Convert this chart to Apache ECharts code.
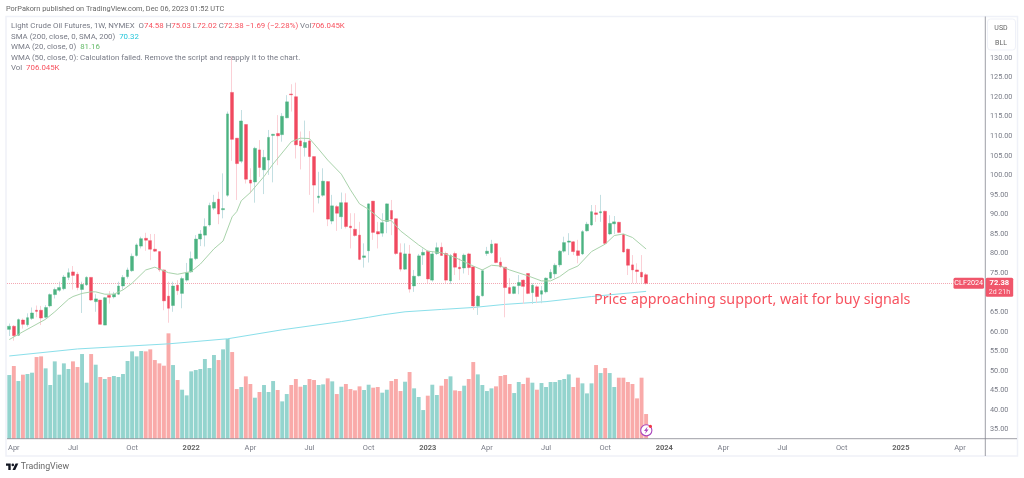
<!DOCTYPE html>
<html><head><meta charset="utf-8">
<style>html,body{margin:0;padding:0;background:#fff}#c{width:1024px;height:478px}</style>
<script src="https://cdn.jsdelivr.net/npm/echarts@6/dist/echarts.min.js"></script>
</head><body><div id="c"></div>
<script>
const opens=[60.6,61.4,59.1,63.0,61.8,63.4,65.5,65.5,63.7,66.6,69.5,70.6,71.0,73.9,75.3,74.7,70.8,72.0,73.9,67.7,68.1,61.7,69.3,68.9,69.6,71.7,74.1,75.6,79.5,81.9,83.9,83.3,81.1,80.5,75.8,69.1,66.7,71.9,69.8,73.2,75.3,78.7,83.7,84.7,87.3,91.6,93.9,91.2,94.9,121.2,109.5,103.6,113.0,98.8,98.3,106.5,101.4,103.9,110.2,110.7,110.4,114.7,120.8,120.1,108.8,107.1,108.8,104.8,94.3,94.9,98.4,88.3,92.0,89.4,93.0,87.0,86.2,84.7,79.0,80.7,93.4,85.6,85.2,88.2,91.0,88.9,80.2,76.0,79.9,71.7,74.3,79.6,80.6,73.2,80.0,81.6,80.0,73.0,80.0,76.5,76.3,79.9,76.6,66.6,69.2,80.0,80.2,82.5,77.8,76.5,71.3,69.8,71.8,73.2,74.9,70.0,71.5,69.6,70.2,73.7,74.8,77.1,80.6,82.9,83.0,80.7,79.9,85.8,87.3,90.4,90.4,90.8,85.0,87.6,88.0,84.9,81.1,77.1,75.8,75.2,74.58];
const closes=[61.4,59.0,63.1,61.9,63.6,64.8,65.2,63.5,66.2,69.5,70.8,71.3,74.0,75.1,74.4,71.3,72.1,73.9,68.1,68.4,61.9,68.7,68.8,69.6,71.7,73.9,75.8,79.3,82.2,83.8,83.4,81.1,80.6,75.8,67.9,66.0,71.7,70.5,73.6,75.1,78.7,83.7,85.0,86.9,92.3,93.1,90.1,91.5,115.7,109.2,103.0,113.9,99.0,98.0,106.9,102.0,104.6,109.7,110.5,110.1,115.1,118.8,120.6,107.8,107.5,108.4,104.8,97.5,94.7,98.5,88.8,92.2,90.3,93.0,86.9,86.6,84.6,78.5,79.4,92.7,85.4,85.0,87.9,92.7,88.8,80.0,76.0,79.9,70.9,74.2,79.4,80.3,73.5,79.9,81.5,79.5,73.2,79.5,76.5,76.1,79.6,76.4,66.6,69.1,75.6,80.6,82.4,77.7,76.6,71.3,69.8,71.5,72.6,71.6,69.8,71.9,69.0,70.5,73.7,75.2,77.0,80.6,82.8,83.2,80.5,79.5,85.6,87.5,90.7,90.0,90.7,82.6,87.7,88.1,85.4,80.4,77.0,75.8,75.4,74.0,72.38];
const lows=[58.9,57.7,58.9,60.8,61.3,63.0,63.7,61.7,63.4,66.2,68.5,70.2,70.6,73.2,70.8,70.6,64.8,71.7,67.9,65.1,61.9,61.7,67.2,68.5,69.4,70.8,73.6,75.3,79.2,81.3,80.7,78.3,80.4,75.3,65.5,62.3,65.1,69.4,66.0,72.8,75.1,78.3,81.9,81.8,86.9,91.1,87.5,89.0,94.5,103.7,93.7,103.1,97.9,95.4,93.0,99.6,95.2,100.1,98.2,102.6,108.6,114.6,116.3,104.3,101.5,104.8,95.0,90.5,92.8,94.5,87.0,87.5,85.8,86.3,86.4,81.3,84.3,78.3,76.4,77.7,83.5,81.3,84.3,85.2,84.7,79.6,75.4,75.8,70.0,70.2,74.1,77.1,72.4,72.8,79.6,79.4,72.4,72.2,74.5,73.2,74.9,74.5,65.6,64.3,69.0,79.4,79.9,77.5,76.4,63.7,69.6,69.6,69.6,67.1,69.6,67.1,67.3,67.3,69.8,73.4,73.7,76.5,80.2,79.6,79.6,77.5,79.6,85.6,87.0,88.1,88.1,82.4,84.7,85.0,85.2,80.2,74.5,72.4,72.4,72.4,72.02];
const highs=[62.1,61.7,63.4,63.4,64.7,66.2,66.7,66.6,66.8,69.8,71.3,72.8,74.5,76.2,76.8,75.3,72.8,74.2,73.9,69.6,68.1,68.9,70.4,70.2,72.8,74.5,76.4,80.0,82.6,84.3,85.3,85.0,85.0,80.5,75.9,72.8,72.8,73.2,74.1,77.6,80.5,84.7,86.0,89.0,93.0,95.0,95.8,100.5,116.3,130.3,109.5,116.7,113.0,101.8,107.3,109.0,106.5,111.6,110.6,115.4,115.9,120.5,123.3,123.7,111.2,114.0,111.3,104.8,100.9,101.8,98.5,95.0,92.4,95.6,95.4,90.3,90.3,88.1,82.6,92.8,93.4,88.1,90.3,92.8,93.7,88.9,82.6,82.6,82.2,75.8,79.9,81.3,80.9,80.5,82.8,82.8,80.5,79.9,80.5,78.8,80.0,80.2,76.8,69.4,76.0,81.7,83.5,82.6,79.0,76.5,73.7,71.7,74.5,73.4,74.9,72.4,71.9,71.7,73.9,76.0,77.5,80.9,84.3,85.2,83.2,83.5,86.0,88.1,92.4,92.4,95.0,91.0,89.8,89.6,88.1,84.9,81.3,79.6,77.5,79.6,75.03];
const volumes=[1822,2080,1650,1832,1851,1889,2337,2356,2013,1536,2213,1832,2156,1994,2213,2051,2423,1603,2423,2118,1765,1708,1765,1794,1765,1851,2223,2499,2356,2509,2499,2557,2251,2156,2089,3015,2108,1679,1402,1240,1927,1965,1994,2280,2022,2395,2251,2557,2852,2480,1421,1479,1784,1565,1173,1336,1536,1336,1650,1393,1068,1278,1536,1708,1488,1536,1708,1679,1536,1555,1727,1641,1278,1488,1565,1421,1383,1498,1393,1545,1460,1479,1317,1402,1650,1708,1364,1631,1908,1441,1193,820,1231,1545,1250,1517,1708,1784,1383,1364,1517,1708,2194,1841,1536,1364,1441,1498,1794,1822,1565,1307,1622,1565,1746,1603,1402,1593,1479,1622,1622,1679,1708,1841,1479,1746,1584,1297,1584,2108,1879,2022,1879,1479,1746,1746,1622,1565,1154,1746,706.045];
const wmaWeeks=[0,3,8,10,13,14,16,18,19,21,23,25,27,30,32,35,37,40,42,45,47,49,50,51,53,56,58,62,64,66,68,70,73,75,77,79,82,84,86,90,92,95,98,102,104,106,108,110,114,117,119,121,123,125,128,131,133,135,137,140];
const wmaValues=[58.0,60.0,63.2,65.1,68.3,69.0,69.8,70.2,70.2,69.6,69.6,70.7,72.4,75.8,76.5,75.1,74.7,75.4,77.3,81.2,83.2,89.4,90.7,93.5,95.6,99.7,102.9,108.6,109.5,109.4,106.7,103.9,100.3,96.3,92.7,91.3,88.4,88.4,85.8,82.2,80.6,80.2,79.0,76.8,75.8,77.0,76.8,75.8,74.3,73.0,73.0,74.1,75.8,76.8,80.5,82.4,84.6,85.0,84.1,81.16];
const smaWeeks=[0,15,35,48,60,73,79,82,87,95,102,109,118,128,140];
const smaValues=[53.8,55.6,56.9,58.2,60.5,62.6,63.7,64.3,65.1,65.7,66.2,67.0,67.7,69.0,70.32];
const weekCount=215;
const tickWeeks=[1,14,27,40,53,66,79,92,105,118,131,144,157,170,183,196,209];
const tickLabels=['Apr','Jul','Oct','2022','Apr','Jul','Oct','2023','Apr','Jul','Oct','2024','Apr','Jul','Oct','2025','Apr'];
const lastClose=72.38;

const FONT='Roboto', GREY='#787b86', RED='#f7525f';
const UP='#4bb281', DOWN='#f0495f', UPW='#c3dfe2', DOWNW='#fbd0d6', UPV='#94d4ce', DOWNV='#f9aaa9';
const categories=Array.from({length:weekCount},(_,i)=>'w'+i);
const labelAt={};tickWeeks.forEach((w,i)=>labelAt[w]=tickLabels[i]);
const wicks=opens.map((o,i)=>[o,closes[i],lows[i],highs[i]]);
const bodies=opens.map((o,i)=>[o,closes[i],Math.min(o,closes[i]),Math.max(o,closes[i])]);
const vols=volumes.map((v,i)=>({value:v,itemStyle:{color:closes[i]>=opens[i]?UPV:DOWNV}}));

const chart=echarts.init(document.getElementById('c'),null,{renderer:'canvas'});
chart.setOption({
 animation:false,backgroundColor:'#fff',
 grid:[{left:7,right:39,top:18.9,height:430.15},{left:7,right:39,top:17,bottom:39.3}],
 xAxis:[
  {type:'category',gridIndex:0,data:categories,show:false},
  {type:'category',gridIndex:1,data:categories,axisLine:{show:false},axisTick:{show:false},
   axisLabel:{interval:(i)=>labelAt[i]!==undefined,margin:5,fontFamily:FONT,fontSize:7.5,color:GREY,
    formatter:(v,i)=>{const s=labelAt[i]||'';return /^\d/.test(s)?'{b|'+s+'}':s},
    rich:{b:{fontFamily:FONT,fontSize:7.5,fontWeight:'bold',color:'#666'}}}}
 ],
 yAxis:[
  {type:'value',gridIndex:0,position:'right',min:30,max:140,interval:5,splitLine:{show:false},axisLine:{show:false},axisTick:{show:false},
   axisLabel:{margin:5,fontFamily:FONT,fontSize:7.3,color:GREY,formatter:v=>(v<35||v>130)?'':v.toFixed(2)}},
  {type:'value',gridIndex:1,min:0,max:12068,show:false}
 ],
 series:[
  {type:'bar',name:'Vol',xAxisIndex:1,yAxisIndex:1,data:vols,barWidth:3.9,z:1},
  {type:'line',name:'SMA',xAxisIndex:0,yAxisIndex:0,data:smaWeeks.map((w,i)=>[w,smaValues[i]]),showSymbol:false,symbol:'none',lineStyle:{color:'#8adfea',width:1},z:3},
  {type:'candlestick',name:'wicks',xAxisIndex:0,yAxisIndex:0,data:wicks,barWidth:1,itemStyle:{color:UPW,color0:DOWNW,borderColor:UPW,borderColor0:DOWNW,borderWidth:1},z:4},
  {type:'candlestick',name:'bodies',xAxisIndex:0,yAxisIndex:0,data:bodies,barWidth:3.2,itemStyle:{color:UP,color0:DOWN,borderColor:UP,borderColor0:DOWN,borderWidth:0.4},z:5,
   markLine:{silent:true,symbol:'none',label:{show:false},lineStyle:{color:'#f4a7b2',type:'dotted',width:1},data:[{yAxis:lastClose}]}},
  {type:'line',name:'WMA',xAxisIndex:0,yAxisIndex:0,data:wmaWeeks.map((w,i)=>[w,wmaValues[i]]),showSymbol:false,symbol:'none',lineStyle:{color:'#a9d3ab',width:1},z:6}
 ]
});
const py=chart.convertToPixel({yAxisIndex:0},lastClose);
const LF=7.85;
const legend=(y,text,rich)=>({type:'text',x:11,y:y,z:20,style:{text,fontFamily:FONT,fontSize:LF,fill:GREY,verticalAlign:'middle',rich}});
const s=c=>({fontFamily:FONT,fontSize:LF,fill:c,color:c});
chart.setOption({graphic:[
 {type:'rect',z:0,shape:{x:6,y:16.5,width:1011.5,height:439.5},style:{fill:'none',stroke:'#eff1f8',lineWidth:1.5}},
 {type:'line',z:30,shape:{x1:7,y1:438.7,x2:1017,y2:438.7},style:{stroke:'#85878f',lineWidth:.8}},
 {type:'line',z:30,shape:{x1:985.3,y1:16.5,x2:985.3,y2:456},style:{stroke:'#85878f',lineWidth:.8}},
 {type:'text',x:6,y:9.5,scaleX:0.97,style:{text:'PorPakorn published on TradingView.com, Dec 06, 2023 01:52 UTC',fontFamily:FONT,fontSize:7.6,fill:'#666',verticalAlign:'middle'}},
 legend(26,'Light Crude Oil Futures, 1W, NYMEX  O{r|74.58} H{r|75.03} L{r|72.02} C{r|72.38} {r|−1.69 (−2.28%)} Vol{r|706.045K}',{r:s(RED)}),
 legend(37,'SMA (200, close, 0, SMA, 200)  {c|70.32}',{c:s('#26c6da')}),
 legend(47.5,'WMA (20, close, 0)  {g|81.16}',{g:s('#66bb6a')}),
 legend(58,'WMA (50, close, 0): Calculation failed. Remove the script and reapply it to the chart.'),
 legend(68.5,'Vol  {r|706.045K}',{r:s(RED)}),
 {type:'rect',z:20,shape:{x:987.5,y:19,width:28,height:31,r:3},style:{fill:'#fff',stroke:'#eff1f8',lineWidth:1}},
 {type:'text',z:21,x:1001,y:28,style:{text:'USD',fontFamily:FONT,fontSize:7,fill:'#666',align:'center',verticalAlign:'middle'}},
 {type:'text',z:21,x:1001,y:43,style:{text:'BLL',fontFamily:FONT,fontSize:7,fill:'#666',align:'center',verticalAlign:'middle'}},
 {type:'rect',z:40,shape:{x:953.5,y:py-5.5,width:30.5,height:11,r:1.5},style:{fill:'#f0566b'}},
 {type:'text',z:41,x:968.7,y:py,style:{text:'CLF2024',fontFamily:FONT,fontSize:7.2,fill:'#fff',align:'center',verticalAlign:'middle'}},
 {type:'rect',z:40,shape:{x:985.7,y:py-5.5,width:27.5,height:19,r:1.5},style:{fill:'#f0566b'}},
 {type:'text',z:41,x:999.4,y:py,style:{text:'72.38',fontFamily:FONT,fontSize:7.6,fontWeight:'bold',fill:'#fff',align:'center',verticalAlign:'middle'}},
 {type:'text',z:41,x:999.4,y:py+8.6,style:{text:'2d 21h',fontFamily:FONT,fontSize:7,fill:'#ffe3e6',align:'center',verticalAlign:'middle'}},
 {type:'text',z:25,x:594,y:300,style:{text:'Price approaching support, wait for buy signals',fontFamily:'Noto Sans',fontSize:14.3,fill:'#f7525f',verticalAlign:'middle'}},
 {type:'circle',z:25,shape:{cx:646.3,cy:430.3,r:5.6},style:{fill:'#fff',stroke:'#ab47bc',lineWidth:1.1}},
 {type:'polygon',z:26,shape:{points:[[647.6,426.6],[644,431],[646,431],[645,434],[648.6,429.6],[646.6,429.6]]},style:{fill:'#ab47bc'}},
 {type:'circle',z:27,shape:{cx:650.4,cy:426.3,r:1.6},style:{fill:'#f23645'}},
 {type:'polygon',z:20,shape:{points:[[6,463.5],[10.7,463.5],[10.7,470],[8.3,470],[8.3,465.8],[6,465.8]]},style:{fill:'#131722'}},
 {type:'circle',z:20,shape:{cx:12.8,cy:464.9,r:1.3},style:{fill:'#131722'}},
 {type:'polygon',z:20,shape:{points:[[15.6,463.5],[18.3,463.5],[15.2,470],[12.5,470]]},style:{fill:'#131722'}},
 {type:'text',z:20,x:20.7,y:467,style:{text:'TradingView',fontFamily:FONT,fontSize:8.8,fill:'#666',verticalAlign:'middle'}}
]});
</script></body></html>
